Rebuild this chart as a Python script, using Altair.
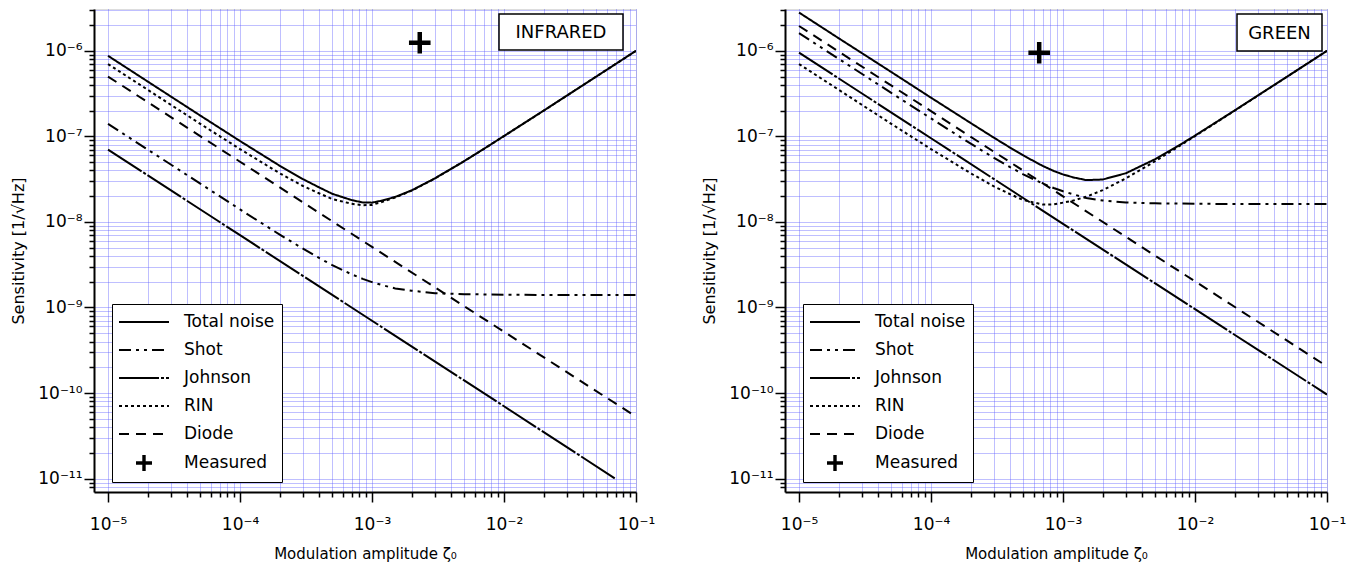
import math
import altair as alt
import pandas as pd

# ---------------- data ----------------
panel_names = ["INFRARED", "GREEN"]
series_names = ["Total noise", "Shot", "Johnson", "RIN", "Diode", "Measured"]

xi = [1e-5, 2e-5, 5e-5, 1e-4, 2e-4, 3e-4, 4e-4, 5e-4, 7e-4, 8.5e-4, 1e-3,
      1.2e-3, 1.5e-3, 2e-3, 3e-3, 5e-3, 7e-3, 1e-2, 2e-2, 5e-2, 1e-1]
xi_decades = [1e-5, 1e-4, 1e-3, 1e-2, 1e-1]

# INFRARED
ir_total = [8.74e-7, 4.37e-7, 1.75e-7, 8.82e-8, 4.53e-8, 3.16e-8, 2.52e-8, 2.13e-8, 1.80e-8, 1.69e-8, 1.68e-8,
            1.78e-8, 1.96e-8, 2.34e-8, 3.23e-8, 5.14e-8, 7.1e-8, 1.01e-7, 2.0e-7, 5.0e-7, 1.0e-6]
ir_rin = [7.0e-7, 3.5e-7, 1.4e-7, 7.1e-8, 3.7e-8, 2.63e-8, 2.15e-8, 1.85e-8, 1.63e-8, 1.57e-8, 1.58e-8,
          1.72e-8, 1.93e-8, 2.32e-8, 3.22e-8, 5.14e-8, 7.1e-8, 1.007e-7, 2.0e-7, 5.0e-7, 1.0e-6]
ir_shot = [1.4e-7, 7.0e-8, 2.8e-8, 1.4e-8, 7.1e-9, 4.87e-9, 3.77e-9, 3.13e-9, 2.44e-9, 2.16e-9, 1.98e-9,
           1.82e-9, 1.67e-9, 1.57e-9, 1.47e-9, 1.43e-9, 1.42e-9, 1.41e-9, 1.40e-9, 1.40e-9, 1.40e-9]
ir_diode = [5.0e-7, 5.05e-8, 5.1e-9, 5.2e-10, 5.3e-11]
ir_johnson_xi = [1e-5, 1e-4, 1e-3, 1e-2, 6.95e-2]
ir_johnson = [7.0e-8, 7.0e-9, 7.0e-10, 7.0e-11, 1.0e-11]
ir_measured_xi = [2.3e-3]
ir_measured = [1.24e-6]

# GREEN
gr_total = [2.80e-6, 1.40e-6, 5.65e-7, 2.83e-7, 1.43e-7, 9.63e-8, 7.34e-8, 5.98e-8, 4.52e-8, 3.94e-8, 3.59e-8,
            3.31e-8, 3.08e-8, 3.13e-8, 3.71e-8, 5.42e-8, 7.29e-8, 1.02e-7, 2.01e-7, 5.0e-7, 1.0e-6]
gr_rin = [7.0e-7, 3.5e-7, 1.4e-7, 7.1e-8, 3.7e-8, 2.6e-8, 2.1e-8, 1.8e-8, 1.6e-8, 1.6e-8, 1.68e-8,
          1.78e-8, 1.97e-8, 2.35e-8, 3.23e-8, 5.14e-8, 7.1e-8, 1.007e-7, 2.0e-7, 5.0e-7, 1.0e-6]
gr_shot = [1.61e-6, 8.05e-7, 3.22e-7, 1.62e-7, 8.21e-8, 5.61e-8, 4.34e-8, 3.6e-8, 2.81e-8, 2.49e-8, 2.28e-8,
           2.1e-8, 1.9e-8, 1.78e-8, 1.69e-8, 1.65e-8, 1.64e-8, 1.63e-8, 1.62e-8, 1.62e-8, 1.62e-8]
gr_diode = [1.95e-6, 1.97e-7, 1.99e-8, 2.02e-9, 2.05e-10]
gr_johnson = [9.5e-7, 9.5e-8, 9.5e-9, 9.55e-10, 9.6e-11]
gr_measured_xi = [6.6e-4]
gr_measured = [9.5e-7]

x_major = [1e-5, 1e-4, 1e-3, 1e-2, 1e-1]
x_major_labels = ["10⁻⁵", "10⁻⁴", "10⁻³", "10⁻²", "10⁻¹"]
y_major = [1e-11, 1e-10, 1e-9, 1e-8, 1e-7, 1e-6]
y_major_labels = ["10⁻¹¹", "10⁻¹⁰", "10⁻⁹", "10⁻⁸", "10⁻⁷", "10⁻⁶"]

x_title = "Modulation amplitude ζ₀"
y_title = "Sensitivity [1/√Hz]"

# ---------------- build tables ----------------
def rows_for(panel, series, xs, ys):
    return [{"panel": panel, "series": series, "xi": x, "value": y} for x, y in zip(xs, ys)]

line_rows = []
line_rows += rows_for("INFRARED", "Total noise", xi, ir_total)
line_rows += rows_for("INFRARED", "Shot", xi, ir_shot)
line_rows += rows_for("INFRARED", "Johnson", ir_johnson_xi, ir_johnson)
line_rows += rows_for("INFRARED", "RIN", xi, ir_rin)
line_rows += rows_for("INFRARED", "Diode", xi_decades, ir_diode)
line_rows += rows_for("GREEN", "Total noise", xi, gr_total)
line_rows += rows_for("GREEN", "Shot", xi, gr_shot)
line_rows += rows_for("GREEN", "Johnson", xi_decades, gr_johnson)
line_rows += rows_for("GREEN", "RIN", xi, gr_rin)
line_rows += rows_for("GREEN", "Diode", xi_decades, gr_diode)
lines_df = pd.DataFrame(line_rows)

point_rows = []
point_rows += rows_for("INFRARED", "Measured", ir_measured_xi, ir_measured)
point_rows += rows_for("GREEN", "Measured", gr_measured_xi, gr_measured)
points_df = pd.DataFrame(point_rows)

# ---------------- styling ----------------
FONT = "DejaVu Sans"
GRID_COLOR = "#6060ff"

x_values = [m * 10.0 ** e for e in range(-5, -1) for m in range(1, 10)] + [0.1]
y_values = [m * 10.0 ** e for e in range(-12, -5) for m in range(1, 10)]
y_values = [v for v in y_values if 7.5e-12 < v < 3.1e-6]


def label_expr(vals, labels):
    parts = []
    for v, lab in zip(vals, labels):
        e = round(math.log10(v))
        parts.append(f"abs(log(datum.value)/LN10 - ({e})) < 0.01 ? '{lab}'")
    return " : ".join(parts) + " : ''"


major_test = "abs(log(datum.value)/LN10 - round(log(datum.value)/LN10)) < 0.001"
tick_size = {"condition": {"test": major_test, "value": 10}, "value": 5}
label_size = {"condition": {"test": major_test, "value": 17}, "value": 0}

x_scale = alt.Scale(type="log", domain=[7.83e-6, 0.1], nice=False)
y_scale = alt.Scale(type="log", domain=[6.97e-12, 3.08e-6], nice=False)

x_axis = alt.Axis(
    values=x_values, labelExpr=label_expr(x_major, x_major_labels), title=x_title,
    grid=True, gridColor=GRID_COLOR, gridDash=[1, 1], gridWidth=1, gridOpacity=0.8,
    tickSize=tick_size, tickColor="black", tickWidth=1.5,
    domainColor="black", domainWidth=2,
    labelFont=FONT, labelFontSize=label_size, labelColor="black", labelPadding=14,
    labelFlush=False, labelOverlap=False, labelBaseline="top",
    titleFont=FONT, titleFontSize=15, titleFontWeight="normal", titleColor="black",
    titleY=66, titleBaseline="alphabetic",
)
y_axis = alt.Axis(
    values=y_values, labelExpr=label_expr(y_major, y_major_labels), title=y_title,
    grid=True, gridColor=GRID_COLOR, gridDash=[1, 1], gridWidth=1, gridOpacity=0.8,
    tickSize=tick_size, tickColor="black", tickWidth=1.5,
    domainColor="black", domainWidth=2,
    labelFont=FONT, labelFontSize=label_size, labelColor="black", labelPadding=2,
    labelOverlap=False, labelBound=False,
    titleFont=FONT, titleFontSize=16, titleFontWeight="normal", titleColor="black",
    titleX=-71, titleY=241.5, titleBaseline="alphabetic", titleAngle=270,
)

dash_range = [[1, 0], [12, 5, 3, 5, 3, 5], [40, 2, 3, 2], [3, 3], [10, 7], [1, 0]]
line_path = "M-2.5,0H2.5"
cross_path = "M-0.8,-0.07H0.8M-0.8,0.07H0.8M-0.07,-0.8V0.8M0.07,-0.8V0.8"
shape_range = [line_path] * 5 + [cross_path]

legend = alt.Legend(
    title=None, orient="none", legendX=18, legendY=295,
    fillColor="white", strokeColor="black", padding=7,
    symbolSize=400, symbolStrokeWidth=2, symbolStrokeColor="black",
    symbolOffset=14, labelOffset=29, rowPadding=9,
    labelFont=FONT, labelFontSize=17, labelColor="black", labelBaseline="middle",
)

label_boxes = {"INFRARED": (405, 529, 5, 41), "GREEN": (452, 537, 5, 42)}


def panel_chart(name):
    x_enc = alt.X("xi:Q", scale=x_scale, axis=x_axis)
    y_enc = alt.Y("value:Q", scale=y_scale, axis=y_axis)
    lines = alt.Chart(lines_df[lines_df.panel == name]).mark_line(
        color="black", strokeWidth=2, clip=True
    ).encode(
        x=x_enc, y=y_enc,
        strokeDash=alt.StrokeDash("series:N", scale=alt.Scale(domain=series_names, range=dash_range),
                                  legend=legend),
    )
    pts = alt.Chart(points_df[points_df.panel == name]).mark_point(
        filled=False, color="black", strokeWidth=2.6, size=729, opacity=1
    ).encode(
        x=x_enc, y=y_enc,
        shape=alt.Shape("series:N", scale=alt.Scale(domain=series_names, range=shape_range),
                        legend=legend),
    )
    x0, x1, y0, y1 = label_boxes[name]
    lab_df = pd.DataFrame({"label": [name]})
    box = alt.Chart(lab_df).mark_rect(fill="white", stroke="black", strokeWidth=1.5).encode(
        x=alt.value(x0), x2=alt.value(x1), y=alt.value(y0), y2=alt.value(y1)
    )
    txt = alt.Chart(lab_df).mark_text(font=FONT, fontSize=18, color="black",
                                      align="center", baseline="middle").encode(
        x=alt.value((x0 + x1) / 2), y=alt.value((y0 + y1) / 2 + 1), text="label:N"
    )
    return alt.layer(lines, pts, box, txt).properties(width=542, height=483)


chart = alt.hconcat(
    panel_chart("INFRARED"), panel_chart("GREEN"), spacing=149, bounds="flush"
).resolve_scale(
    strokeDash="independent", shape="independent"
).resolve_legend(
    strokeDash="independent", shape="independent"
).properties(
    padding={"left": 1, "top": 0, "right": 5, "bottom": 0}
).configure_view(stroke=None).configure(background="white")

chart.save("out.html", embed_options={"renderer": "svg", "actions": False})
